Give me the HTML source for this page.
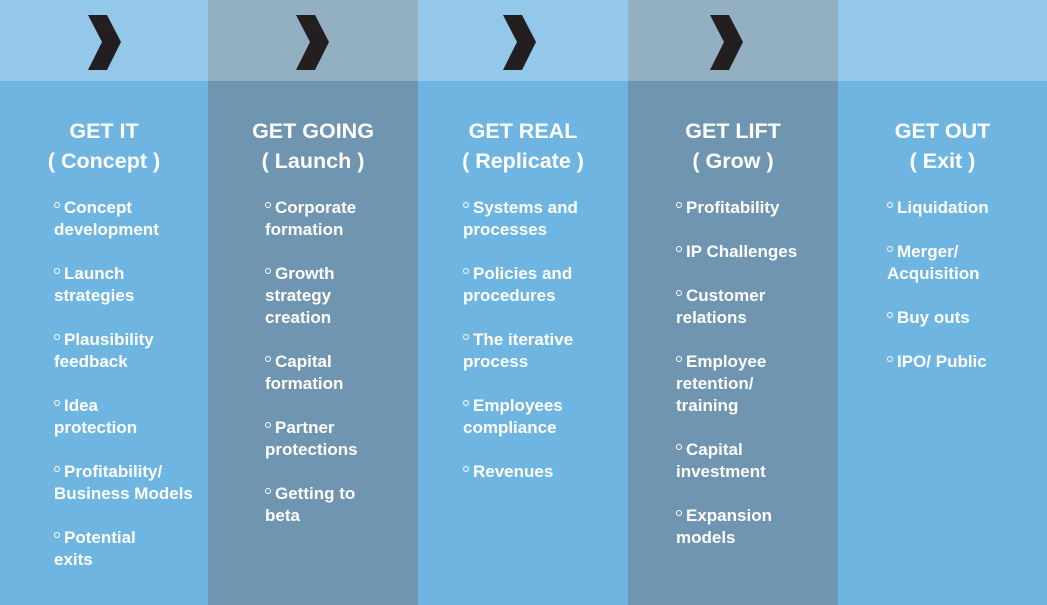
<!DOCTYPE html>
<html><head><meta charset="utf-8"><style>
*{margin:0;padding:0;box-sizing:border-box}
body{width:1047px;height:605px;overflow:hidden;position:relative;font-family:"Liberation Sans",sans-serif;font-weight:bold;color:#fff;background:#6fb5e2}
.col{position:absolute;top:0;height:605px}
.top{position:absolute;left:0;right:0;top:0;height:81px}
.l .top{background:#93c8eb}.l{background:#6fb5e2}
.d .top{background:#93afc2}.d{background:#6f95b1}
.t{position:absolute;top:116px;left:0;right:0;text-align:center;font-size:21.5px;line-height:30px}
.items{position:absolute;top:197px;font-size:17px;line-height:22px}
.items div{margin-bottom:22px}
.b{display:inline-block;width:6px;height:6px;border:1.6px solid #fff;border-radius:50%;vertical-align:top;margin-top:5px;margin-right:4px}
svg{position:absolute;top:15px;left:88px}
</style></head><body>
<div class="col l" style="left:0;width:208px"><div class="top"></div>
<svg width="34" height="56"><polygon points="0,0 19,0 33,27 19,55 0,55 14,27" fill="#231f20"/></svg>
<div class="t">GET IT<br>( Concept )</div>
<div class="items" style="left:54px">
<div><span class="b"></span>Concept<br>development</div>
<div><span class="b"></span>Launch<br>strategies</div>
<div><span class="b"></span>Plausibility<br>feedback</div>
<div><span class="b"></span>Idea<br>protection</div>
<div><span class="b"></span>Profitability/<br>Business Models</div>
<div><span class="b"></span>Potential<br>exits</div>
</div></div>
<div class="col d" style="left:208px;width:210px"><div class="top"></div>
<svg width="34" height="56"><polygon points="0,0 19,0 33,27 19,55 0,55 14,27" fill="#231f20"/></svg>
<div class="t">GET GOING<br>( Launch )</div>
<div class="items" style="left:57px">
<div><span class="b"></span>Corporate<br>formation</div>
<div><span class="b"></span>Growth<br>strategy<br>creation</div>
<div><span class="b"></span>Capital<br>formation</div>
<div><span class="b"></span>Partner<br>protections</div>
<div><span class="b"></span>Getting to<br>beta</div>
</div></div>
<div class="col l" style="left:418px;width:210px"><div class="top"></div>
<svg width="34" height="56" style="left:85px"><polygon points="0,0 19,0 33,27 19,55 0,55 14,27" fill="#231f20"/></svg>
<div class="t">GET REAL<br>( Replicate )</div>
<div class="items" style="left:45px">
<div><span class="b"></span>Systems and<br>processes</div>
<div><span class="b"></span>Policies and<br>procedures</div>
<div><span class="b"></span>The iterative<br>process</div>
<div><span class="b"></span>Employees<br>compliance</div>
<div><span class="b"></span>Revenues</div>
</div></div>
<div class="col d" style="left:628px;width:210px"><div class="top"></div>
<svg width="34" height="56" style="left:82px"><polygon points="0,0 19,0 33,27 19,55 0,55 14,27" fill="#231f20"/></svg>
<div class="t">GET LIFT<br>( Grow )</div>
<div class="items" style="left:48px">
<div><span class="b"></span>Profitability</div>
<div><span class="b"></span>IP Challenges</div>
<div><span class="b"></span>Customer<br>relations</div>
<div><span class="b"></span>Employee<br>retention/<br>training</div>
<div><span class="b"></span>Capital<br>investment</div>
<div><span class="b"></span>Expansion<br>models</div>
</div></div>
<div class="col l" style="left:838px;width:209px"><div class="top"></div>
<div class="t">GET OUT<br>( Exit )</div>
<div class="items" style="left:49px">
<div><span class="b"></span>Liquidation</div>
<div><span class="b"></span>Merger/<br>Acquisition</div>
<div><span class="b"></span>Buy outs</div>
<div><span class="b"></span>IPO/ Public</div>
</div></div>
</body></html>
